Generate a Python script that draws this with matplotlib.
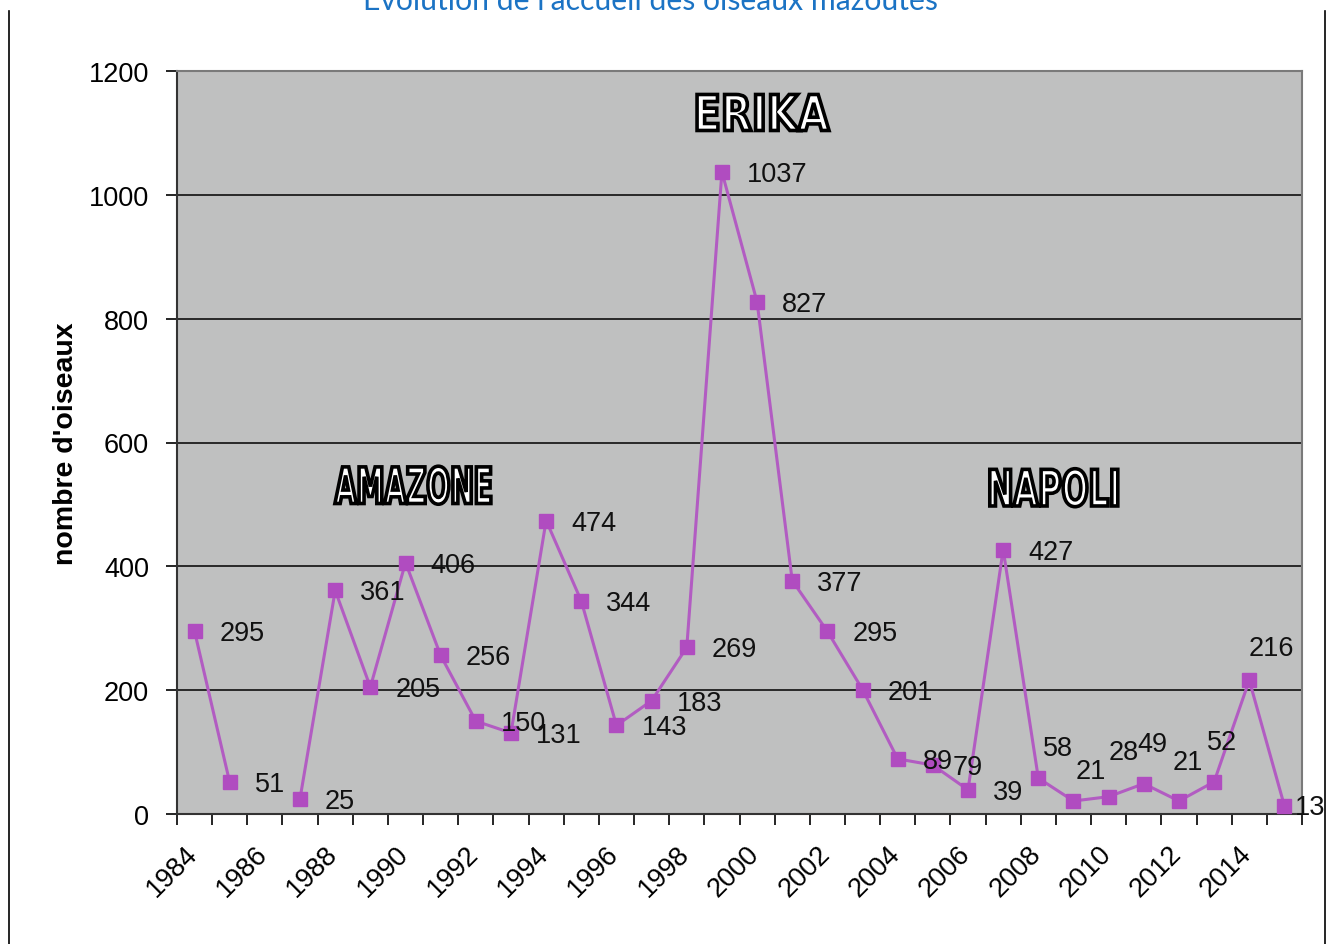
import numpy as np
import matplotlib
matplotlib.use("Agg")
import matplotlib.pyplot as plt
from matplotlib.textpath import TextPath
from matplotlib.patches import PathPatch
from matplotlib.font_manager import FontProperties
from matplotlib.transforms import Affine2D, ScaledTranslation
from matplotlib.lines import Line2D

# data (1986 has no value)
years = list(range(1984, 2016))
birds = [295, 51, np.nan, 25, 361, 205, 406, 256, 150, 131, 474, 344, 143, 183,
         269, 1037, 827, 377, 295, 201, 89, 79, 39, 427, 58, 21, 28, 49, 21, 52,
         216, 13]
events = ["AMAZONE", "ERIKA", "NAPOLI"]
event_x = [6.21, 16.17, 24.44]      # category position of the label centre
event_y = [531, 1133, 527]

title = "Évolution de l'accueil des oiseaux mazoutés"
ylabel = "nombre d'oiseaux"

# label offsets in pixels (left edge, vertical) - most are default
default_off = (25, -2)
special_off = {2005: (20, -2), 2008: (5, 30), 2009: (2, 30), 2010: (0, 45),
               2011: (-6, 40), 2012: (-6, 39), 2013: (-7, 40), 2014: (-1, 32),
               2015: (10, -1)}

W, H = 1332, 945
fig = plt.figure(figsize=(W / 100, H / 100), dpi=100)
ax = fig.add_axes([177 / W, 1 - 815 / H, (1302 - 177) / W, (815 - 72) / H])

ax.set_facecolor("#bfc0c0")
x = np.arange(len(years))
ax.plot(x, birds, color="#b25cc2", lw=2.2, marker="s", ms=10,
        mfc="#b04cc0", mec="#b04cc0", zorder=3)

for i, (yr, v) in enumerate(zip(years, birds)):
    if np.isnan(v):
        continue
    dx, dy = special_off.get(yr, default_off)
    ax.annotate(str(int(v)), (i, v), xytext=(dx, dy), textcoords="offset pixels",
                ha="left", va="center", fontsize=19.5, family="Liberation Sans",
                color="#111111", zorder=4, annotation_clip=False)

ax.set_xlim(-0.5, len(years) - 0.5)
ax.set_ylim(0, 1200)
ax.set_yticks(range(0, 1201, 200))
ax.grid(axis="y", color="black", lw=1.1)
ax.set_axisbelow(True)

# year labels sit a little right of the category centre (invisible ticks)
ax.set_xticks(x[::2] + 0.22)
ax.set_xticklabels([str(y) for y in years[::2]], rotation=45, ha="right",
                   va="top", fontsize=19.5, family="Liberation Sans")
ax.set_xticks(np.arange(-0.5, len(years), 1), minor=True)
ax.tick_params(axis="x", which="major", length=0, pad=19)
ax.tick_params(axis="x", which="minor", length=8, width=1.2, color="black")
ax.tick_params(axis="y", length=8, width=1.2, pad=12, labelsize=19.5)
for lab in ax.get_yticklabels():
    lab.set_family("Liberation Sans")

for side in ["top", "right"]:
    ax.spines[side].set_color("#7a7a7a")
    ax.spines[side].set_linewidth(1.5)
for side in ["left", "bottom"]:
    ax.spines[side].set_color("#333333")
    ax.spines[side].set_linewidth(1.5)

ax.set_ylabel(ylabel, fontsize=20.5, fontweight="bold", family="Liberation Sans",
              labelpad=7)


# outlined condensed event names, squeezed to the size seen in the chart
def outlined(text, xc, yc, width, height):
    tp = TextPath((0, 0), text, size=50,
                  prop=FontProperties(family="DejaVu Sans", weight="bold"))
    ext = tp.get_extents()
    tr = (Affine2D().translate(-(ext.x0 + ext.x1) / 2, -(ext.y0 + ext.y1) / 2)
          .scale(width / ext.width, height / ext.height)
          + ScaledTranslation(xc, yc, ax.transData))
    ax.add_patch(PathPatch(tp, transform=tr, facecolor="white",
                           edgecolor="black", lw=2.6, zorder=5))


sizes = [(156, 38), (132, 36), (128, 38)]
for name, xc, yc, (w, h) in zip(events, event_x, event_y, sizes):
    outlined(name, xc, yc, w, h)

fig.text(650 / W, 1 - 10 / H, title, ha="center", va="baseline",
         fontsize=21.7, family="Lato", color="#1b73c4")

# thin frame lines on left and right
fig.add_artist(Line2D([9 / W, 9 / W], [0, 1 - 12 / H], color="black", lw=1.2))
fig.add_artist(Line2D([1325 / W, 1325 / W], [0, 1 - 12 / H], color="black",
                      lw=1.2))

fig.savefig("out.png", dpi=100, facecolor="white")
